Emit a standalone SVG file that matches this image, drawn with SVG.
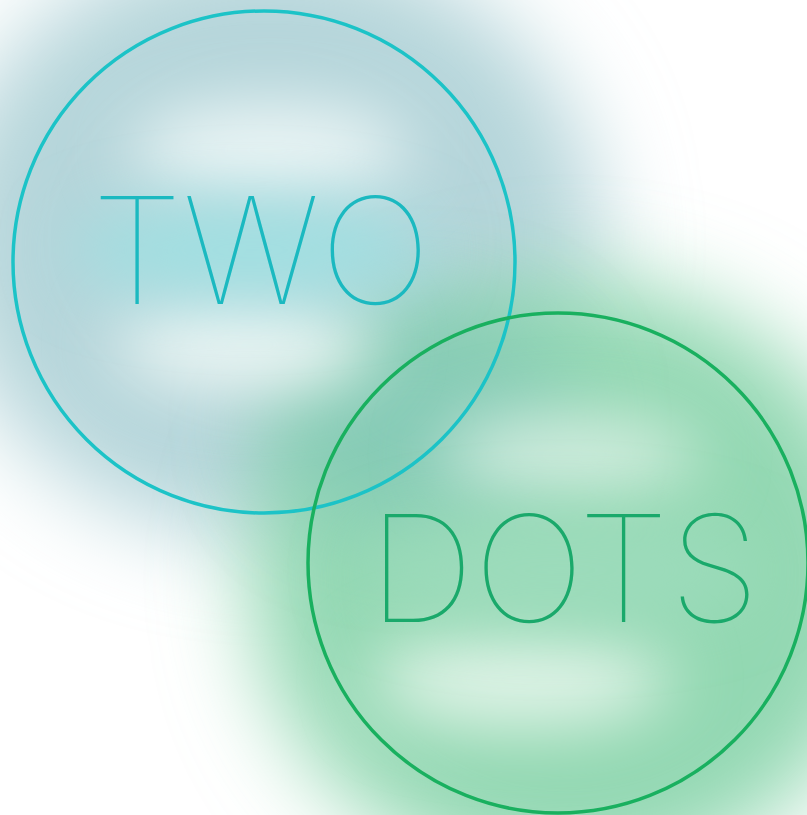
<svg xmlns="http://www.w3.org/2000/svg" width="807" height="815" viewBox="0 0 807 815">
  <defs>
    <filter id="blurBig" filterUnits="userSpaceOnUse" x="-300" y="-300" width="1400" height="1400"><feGaussianBlur stdDeviation="45"/></filter>
    <filter id="blurMid" filterUnits="userSpaceOnUse" x="-300" y="-300" width="1400" height="1400"><feGaussianBlur stdDeviation="34"/></filter>
    <style>
      .ring { fill: none; stroke-width: 3.5; }
      .label { font-family: Inter, Roboto, "Liberation Sans", sans-serif; font-weight: 100; font-size: 148px; text-anchor: middle; }
    </style>
  </defs>
  <rect width="807" height="815" fill="#ffffff"/>
  <g id="background">
    <ellipse cx="270" cy="240" rx="330" ry="300" fill="#b5d5da" filter="url(#blurBig)"/>
    <ellipse cx="570" cy="580" rx="320" ry="300" fill="#93d8b2" filter="url(#blurBig)"/>
    <ellipse cx="420" cy="420" rx="150" ry="110" fill="#86cbb6" filter="url(#blurBig)"/>
    <ellipse cx="270" cy="150" rx="140" ry="45" fill="#eef7f7" filter="url(#blurMid)"/>
    <ellipse cx="245" cy="345" rx="130" ry="45" fill="#eef7f5" filter="url(#blurMid)"/>
    <ellipse cx="250" cy="250" rx="180" ry="45" fill="#9fe0e2" filter="url(#blurMid)"/>
    <ellipse cx="570" cy="455" rx="130" ry="38" fill="#d8efe3" filter="url(#blurMid)"/>
    <ellipse cx="520" cy="680" rx="150" ry="48" fill="#e2f4e9" filter="url(#blurMid)"/>
    <ellipse cx="560" cy="570" rx="200" ry="50" fill="#9ddcbc" filter="url(#blurMid)"/>
  </g>
  <g id="two">
    <circle class="ring" cx="264" cy="262" r="251" stroke="#1cc3c7"/>
    <text class="label" x="261" y="304" fill="#1bb9c0">TWO</text>
  </g>
  <g id="dots">
    <circle class="ring" cx="558" cy="563" r="250" stroke="#19b05f"/>
    <text class="label" x="564" y="622" fill="#1aa96b">DOTS</text>
  </g>
</svg>
